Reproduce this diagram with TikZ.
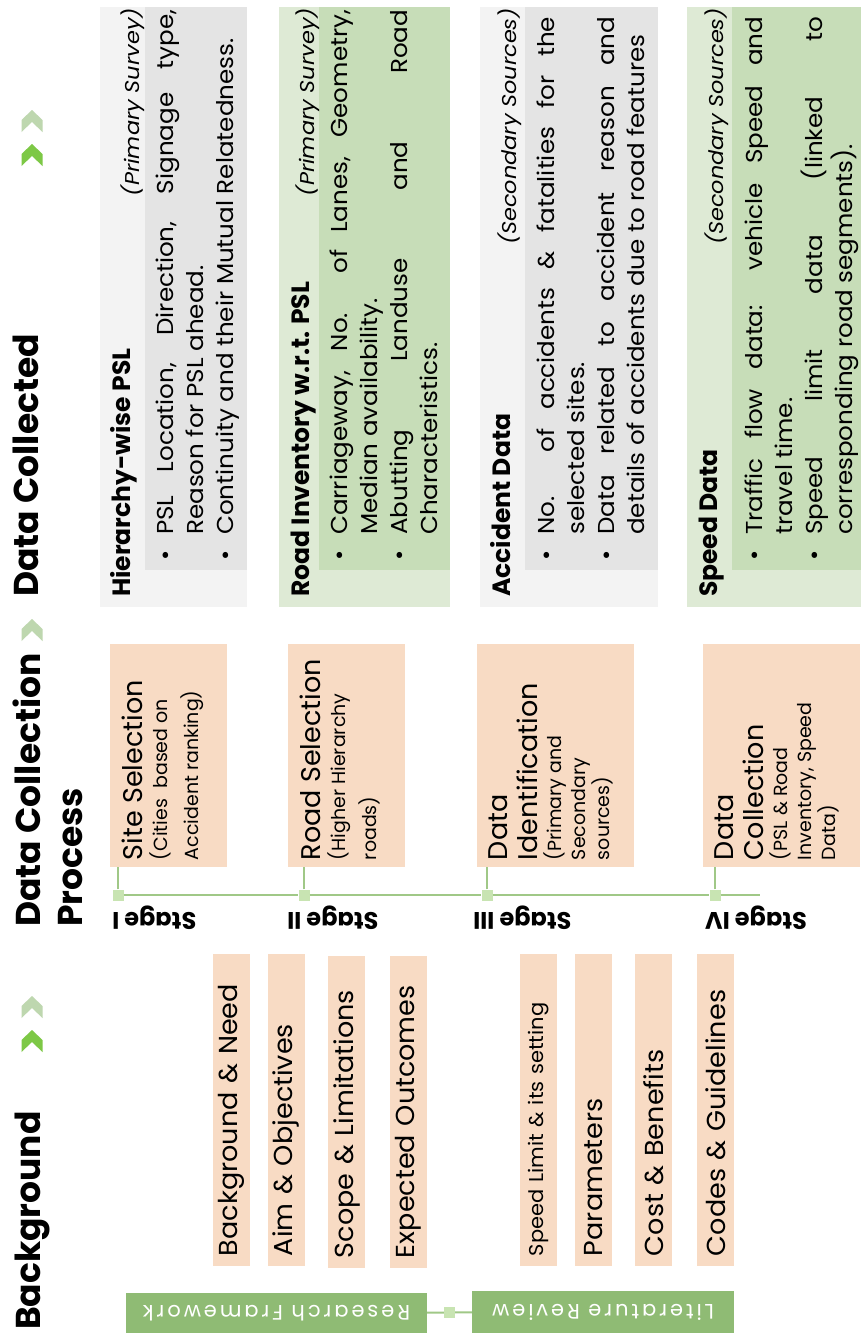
\documentclass[tikz,border=0pt]{standalone}
\usepackage{fontspec}
\setmainfont{Poppins}
\usepackage{tikz}

\definecolor{peach}{RGB}{248,219,196}
\definecolor{frgreen}{RGB}{143,187,116}
\definecolor{tlgreen}{RGB}{160,200,135}
\definecolor{sqgreen}{RGB}{200,228,178}
\definecolor{outgrey}{RGB}{243,243,243}
\definecolor{ingrey}{RGB}{228,228,228}
\definecolor{outgreen}{RGB}{222,234,213}
\definecolor{ingreen}{RGB}{199,221,184}
\definecolor{chevbright}{RGB}{125,200,70}
\definecolor{chevlight}{RGB}{190,215,175}

\newcommand{\blt}{\par\hangindent=26pt\hangafter=1\noindent\makebox[26pt][l]{\textbullet}}

\tikzset{
  sectitle/.style={font=\bfseries\fontsize{34.5}{42}\selectfont, rotate=90, inner sep=0pt, align=left},
  itembox/.style={fill=peach, rotate=90, text width=292pt, inner xsep=10pt, inner ysep=0pt,
                  minimum height=37pt, align=left, font=\fontsize{26}{30}\selectfont\addfontfeature{FakeStretch=1.04}},
  stagebox/.style={fill=peach, rotate=90, inner xsep=7pt, inner ysep=12pt},
  stagelbl/.style={font=\bfseries\fontsize{24}{26}\selectfont, rotate=180, inner sep=0pt},
  darkbox/.style={fill=frgreen, text=white, rotate=180, inner sep=0pt,
                  font=\fontsize{21}{22}\selectfont\addfontfeature{LetterSpace=14}},
  tline/.style={draw=tlgreen, line width=2pt},
  dotsq/.style={fill=sqgreen, minimum size=11pt, inner sep=0pt},
  panel/.style={inner sep=0pt, minimum height=600pt},
  inpanel/.style={inner sep=0pt, minimum height=563pt},
  paneltitle/.style={font=\bfseries\fontsize{25}{28}\selectfont, rotate=90, inner sep=0pt, anchor=base west},
  source/.style={font=\itshape\fontsize{20}{22}\selectfont\addfontfeature{FakeStretch=1.12}, rotate=90, inner sep=0pt, anchor=base east},
  bullets/.style={font=\fontsize{23}{30}\selectfont\addfontfeature{FakeStretch=1.07}, rotate=90, inner sep=0pt, anchor=base west},
  chev/.pic={\fill (0,-11) -- (10.5,-1) -- (10.5,11) -- (0,1) -- (-10.5,11) -- (-10.5,-1) -- cycle;}
}

\begin{document}
\begin{tikzpicture}[x=1pt, y=-1pt]
  \path[fill=white, use as bounding box] (0,0) rectangle (861,1333);

  % section titles
  \node[sectitle, anchor=north west] (bgtitle) at (15,1330) {Background};
  \node[sectitle, anchor=north west] (dctitle) at (13,927) {Data Collection\\Process};
  \node[sectitle, anchor=north west] (dcdtitle) at (13,597) {Data Collected};
  \pic[color=chevlight] at (32,1007) {chev};
  \pic[color=chevbright] at (32,1041) {chev};
  \pic[color=chevlight] at (32,630) {chev};
  \pic[color=chevlight] at (32,121) {chev};
  \pic[color=chevbright] at (32,155) {chev};

  % background
  \node[itembox] (bgneed) at (231.5,1110) {Background \& Need};
  \node[itembox] (aim) at (286,1110) {Aim \& Objectives};
  \node[itembox] (scope) at (346.5,1112) {Scope \& Limitations};
  \node[itembox] (outcomes) at (408.5,1112) {Expected Outcomes};
  \node[itembox, font=\fontsize{20}{24}\selectfont\addfontfeature{FakeStretch=1.05}] (speedlim) at (538.5,1110) {Speed Limit \& its setting};
  \node[itembox] (params) at (593.5,1110) {Parameters};
  \node[itembox] (cost) at (653.5,1110) {Cost \& Benefits};
  \node[itembox] (codes) at (715.5,1110) {Codes \& Guidelines};
  \node[darkbox, minimum width=301pt, minimum height=40pt] (resfw) at (276.5,1313) {Research Framework};
  \node[darkbox, minimum width=262pt, minimum height=42pt] (litrev) at (603,1312) {Literature Review};
  \draw[tline] (resfw) -- (litrev) node[dotsq, pos=0.5] (rlsq) {};

  % stages
  \node[stagebox] (site) at (168.5,755.5) {\parbox[c][93pt][t]{209pt}{\fontsize{27}{30}\selectfont Site Selection\par
    \fontsize{19}{25}\selectfont (Cities\ \ based on\\[6pt]Accident ranking)}};
  \node[stagebox] (road) at (346.5,755.5) {\parbox[c][93pt][t]{209pt}{\fontsize{27}{30}\selectfont Road Selection\par
    \fontsize{19}{25}\selectfont (Higher Hierarchy\\[6pt]roads)}};
  \node[stagebox] (dataid) at (555.5,755.5) {\parbox[c][133pt][t]{209pt}{\fontsize{27}{30}\selectfont Data\\Identification\par
    \fontsize{19}{24}\selectfont (Primary and\\Secondary\\sources)}};
  \node[stagebox] (datacol) at (781.5,755.5) {\parbox[c][133pt][t]{209pt}{\fontsize{27}{30}\selectfont Data\\Collection\par
    \fontsize{19}{24}\selectfont (PSL \& Road\\Inventory, Speed\\Data)}};

  \node[dotsq] (sq1) at (118,895) {};
  \node[dotsq] (sq2) at (304,895) {};
  \node[dotsq] (sq3) at (487,895) {};
  \node[dotsq] (sq4) at (715,895) {};
  \coordinate (tlend) at (760,895);
  \draw[tline] (sq1) -- (sq2) -- (sq3) -- (sq4) -- (tlend);
  \draw[tline] (sq1) -- (sq1 |- site.west);
  \draw[tline] (sq2) -- (sq2 |- road.west);
  \draw[tline] (sq3) -- (sq3 |- dataid.west);
  \draw[tline] (sq4) -- (sq4 |- datacol.west);
  \node[stagelbl, anchor=base east] (lbl1) at (112,912) {Stage I};
  \node[stagelbl, anchor=base east] (lbl2) at (287,912) {Stage II};
  \node[stagelbl, anchor=base east] (lbl3) at (473,912) {Stage III};
  \node[stagelbl, anchor=base east] (lbl4) at (705,912) {Stage IV};

  % data collected
  \node[panel, fill=outgrey, minimum width=147pt] (hier) at (173.5,307) {};
  \node[inpanel, fill=ingrey, minimum width=102pt] (hierin) at (196,288.5) {};
  \node[paneltitle] (hiertitle) at (130,597) {Hierarchy-wise PSL};
  \node[source] (hiersrc) at (139,8) {(Primary Survey)};
  \node[bullets] (hierlist) at (173,561) {\parbox[t]{551pt}{%
    \blt PSL Location, Direction, Signage type,\linebreak Reason for PSL ahead.
    \blt Continuity and their Mutual Relatedness.}};

  \node[panel, fill=outgreen, minimum width=171pt] (inv) at (364.5,307) {};
  \node[inpanel, fill=ingreen, minimum width=131pt] (invin) at (384.5,288.5) {};
  \node[paneltitle] (invtitle) at (309,597) {Road Inventory w.r.t. PSL};
  \node[source] (invsrc) at (314,8) {(Primary Survey)};
  \node[bullets] (invlist) at (347,561) {\parbox[t]{551pt}{%
    \blt Carriageway, No. of Lanes, Geometry,\linebreak Median availability.
    \blt Abutting Landuse and Road\linebreak Characteristics.}};

  \node[panel, fill=outgrey, minimum width=178pt] (acc) at (569,307) {};
  \node[inpanel, fill=ingrey, minimum width=133pt] (accin) at (591.5,288.5) {};
  \node[paneltitle] (acctitle) at (510,597) {Accident Data};
  \node[source] (accsrc) at (516,8) {(Secondary Sources)};
  \node[bullets] (acclist) at (554,561) {\parbox[t]{544pt}{%
    \blt No. of accidents \& fatalities for the\linebreak selected sites.
    \blt Data related to accident reason and\linebreak details of accidents due to road features}};

  \node[panel, fill=outgreen, minimum width=183pt] (spd) at (778.5,307) {};
  \node[inpanel, fill=ingreen, minimum width=138pt] (spdin) at (801,288.5) {};
  \node[paneltitle] (spdtitle) at (717,597) {Speed Data};
  \node[source] (spdsrc) at (723,8) {(Secondary Sources)};
  \node[bullets] (spdlist) at (762,561) {\parbox[t]{544pt}{%
    \blt Traffic flow data: vehicle Speed and\linebreak travel time.
    \blt Speed limit data (linked to\linebreak corresponding road segments).}};
\end{tikzpicture}
\end{document}
